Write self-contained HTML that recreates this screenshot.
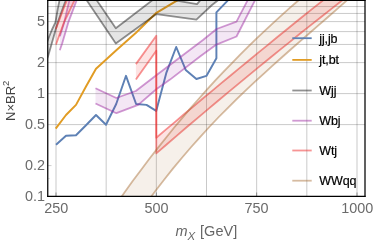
<!DOCTYPE html>
<html>
<head>
<meta charset="utf-8">
<style>
html,body{margin:0;padding:0;background:#fff;}
body{width:374px;height:243px;overflow:hidden;font-family:"Liberation Sans",sans-serif;}
svg{display:block;will-change:transform;}
text{font-family:"Liberation Sans",sans-serif;}
.tick{font-size:14.4px;fill:#6b6b6b;}
.leg{font-size:12.5px;fill:#000;stroke:#000;stroke-width:0.2px;letter-spacing:-0.12px;}
.grid line{stroke:#000;stroke-opacity:0.21;stroke-width:1;}
</style>
</head>
<body>
<svg width="374" height="243" viewBox="0 0 374 243">
<defs>
<clipPath id="plot"><rect x="47.8" y="0" width="317.2" height="196.3"/></clipPath>
</defs>
<rect x="0" y="0" width="374" height="243" fill="#fff"/>
<g class="grid">
<line x1="56.00" y1="0" x2="56.00" y2="196"/>
<line x1="106.17" y1="0" x2="106.17" y2="196"/>
<line x1="156.33" y1="0" x2="156.33" y2="196"/>
<line x1="206.50" y1="0" x2="206.50" y2="196"/>
<line x1="256.67" y1="0" x2="256.67" y2="196"/>
<line x1="306.83" y1="0" x2="306.83" y2="196"/>
<line x1="357.00" y1="0" x2="357.00" y2="196"/>
<line x1="48" y1="124.6" x2="365" y2="124.6"/>
<line x1="48" y1="93.6" x2="365" y2="93.6"/>
<line x1="48" y1="62.6" x2="365" y2="62.6"/>
<line x1="48" y1="44.45" x2="365" y2="44.45"/>
<line x1="48" y1="31.6" x2="365" y2="31.6"/>
<line x1="48" y1="21.6" x2="365" y2="21.6"/>
<line x1="48" y1="13.45" x2="365" y2="13.45"/>
<line x1="48" y1="6.55" x2="365" y2="6.55"/>
</g>
<g clip-path="url(#plot)" fill="none" stroke-linejoin="round" stroke-linecap="butt">
<path d="M56.0,144.8 L66.0,135.7 L76.0,135.3 L86.0,125.2 L96.0,115.0 L106.0,124.8 L116.2,104.0 L126.0,75.8 L136.1,104.0 L146.5,104.9 L156.2,110.9 L166.5,72.3 L176.2,47.0 L185.7,69.9 L196.4,79.0 L206.4,75.9 L216.4,58.2 L216.4,12.4 L227.4,0.8 L232.0,-4.0" stroke="#5E81B5" stroke-width="1.95"/>
<path d="M55.7,128.7 L66.0,115.0 L76.0,104.9 L86.0,86.5 L96.0,68.8 L116.0,50.5 L136.0,32.8 L156.4,12.8 L176.5,0.8 L186.0,-4.0" stroke="#E19C24" stroke-width="1.95"/>
<path d="M44.0,50.0 L48.0,39.5 L51.8,30.0 L55.4,22.4 L57.8,8.6 L59.2,1.7 L65.0,-25.0 L76.0,-35.0 L83.0,-20.0 L97.0,0.8 L100.0,5.0 L115.8,28.2 L156.3,-2.8 L197.0,4.1 L199.8,0.8 L215.0,-15.0 L230.0,-25.0 L230.0,-10.0 L217.4,0.8 L212.0,5.0 L196.4,19.6 L156.4,14.1 L115.8,43.6 L100.0,19.9 L87.0,0.8 L76.0,-20.0 L72.0,-25.0 L65.2,1.7 L62.7,8.6 L57.8,22.4 L55.0,31.9 L51.3,45.0 L48.0,56.5 L44.0,66.0 Z" fill="#000" fill-opacity="0.1" stroke="none"/>
<path d="M44.0,50.0 L48.0,39.5 L51.8,30.0 L55.4,22.4 L57.8,8.6 L59.2,1.7 L65.0,-25.0 L76.0,-35.0 L83.0,-20.0 L97.0,0.8 L100.0,5.0 L115.8,28.2 L156.3,-2.8 L197.0,4.1 L199.8,0.8 L215.0,-15.0 L230.0,-25.0" stroke="#000" stroke-opacity="0.43" stroke-width="1.8"/>
<path d="M44.0,66.0 L48.0,56.5 L51.3,45.0 L55.0,31.9 L57.8,22.4 L62.7,8.6 L65.2,1.7 L72.0,-25.0 L76.0,-20.0 L87.0,0.8 L100.0,19.9 L115.8,43.6 L156.4,14.1 L196.4,19.6 L212.0,5.0 L217.4,0.8 L230.0,-10.0" stroke="#000" stroke-opacity="0.43" stroke-width="1.8"/>
<path d="M59.9,36.2 L64.2,22.4 L67.4,8.6 L69.2,1.0 L71.0,-6.0 L79.0,-6.0 L76.3,1.3 L73.5,8.6 L68.3,22.4 L62.0,44.0 L59.8,50.2 Z" fill="rgb(155,38,160)" fill-opacity="0.11" stroke="none"/>
<path d="M59.9,36.2 L64.2,22.4 L67.4,8.6 L69.2,1.0 L71.0,-6.0" stroke="rgb(155,38,160)" stroke-opacity="0.47" stroke-width="1.8"/>
<path d="M59.8,50.2 L62.0,44.0 L68.3,22.4 L73.5,8.6 L76.3,1.3 L79.0,-6.0" stroke="rgb(155,38,160)" stroke-opacity="0.47" stroke-width="1.8"/>
<path d="M95.5,88.3 L116.3,98.0 L135.8,91.0 L156.3,75.3 L203.0,40.0 L216.6,29.0 L236.5,21.6 L247.3,0.8 L250.0,-5.0 L257.5,-5.0 L254.7,0.8 L236.5,36.5 L216.4,44.6 L200.0,56.5 L170.0,79.6 L156.3,89.3 L138.2,104.9 L116.4,113.2 L95.5,103.5 Z" fill="rgb(155,38,160)" fill-opacity="0.11" stroke="none"/>
<path d="M95.5,88.3 L116.3,98.0 L135.8,91.0 L156.3,75.3 L203.0,40.0 L216.6,29.0 L236.5,21.6 L247.3,0.8 L250.0,-5.0" stroke="rgb(155,38,160)" stroke-opacity="0.47" stroke-width="1.8"/>
<path d="M95.5,103.5 L116.4,113.2 L138.2,104.9 L156.3,89.3 L170.0,79.6 L200.0,56.5 L216.4,44.6 L236.5,36.5 L254.7,0.8 L257.5,-5.0" stroke="rgb(155,38,160)" stroke-opacity="0.47" stroke-width="1.8"/>
<path d="M55.8,28.8 L58.4,22.4 L63.5,8.6 L66.5,1.3 L69.5,-6.0 L77.5,-6.0 L74.2,1.0 L70.6,8.6 L64.0,22.4 L56.2,44.0 L55.8,44.0 Z" fill="rgb(240,42,42)" fill-opacity="0.13" stroke="none"/>
<path d="M55.8,28.8 L58.4,22.4 L63.5,8.6 L66.5,1.3 L69.5,-6.0" stroke="rgb(240,42,42)" stroke-opacity="0.5" stroke-width="1.8"/>
<path d="M55.8,44.0 L56.2,44.0 L64.0,22.4 L70.6,8.6 L74.2,1.0 L77.5,-6.0" stroke="rgb(240,42,42)" stroke-opacity="0.5" stroke-width="1.8"/>
<path d="M135.9,64.1 L156.3,35.8 L156.3,137.7 L165.5,129.9 L174.8,122.1 L184.0,114.3 L193.3,106.6 L202.5,98.8 L211.8,91.1 L221.0,83.4 L230.3,75.8 L239.5,68.1 L248.8,60.5 L258.0,52.9 L267.3,45.4 L276.5,37.8 L285.8,30.3 L295.0,22.8 L304.3,15.3 L313.5,7.9 L322.8,0.5 L332.0,-6.9 L352.0,-7.2 L341.7,0.8 L331.4,8.9 L321.1,17.0 L310.8,25.1 L300.5,33.3 L290.2,41.6 L279.9,49.9 L269.6,58.2 L259.3,66.6 L249.0,75.1 L238.7,83.6 L228.4,92.1 L218.1,100.7 L207.8,109.4 L197.5,118.1 L187.2,126.8 L176.9,135.6 L166.6,144.5 L156.3,153.4 L156.3,50.7 L135.9,79.6 Z" fill="rgb(240,42,42)" fill-opacity="0.13" stroke="none"/>
<path d="M135.9,64.1 L156.3,35.8 L156.3,137.7 L165.5,129.9 L174.8,122.1 L184.0,114.3 L193.3,106.6 L202.5,98.8 L211.8,91.1 L221.0,83.4 L230.3,75.8 L239.5,68.1 L248.8,60.5 L258.0,52.9 L267.3,45.4 L276.5,37.8 L285.8,30.3 L295.0,22.8 L304.3,15.3 L313.5,7.9 L322.8,0.5 L332.0,-6.9" stroke="rgb(240,42,42)" stroke-opacity="0.5" stroke-width="1.8"/>
<path d="M135.9,79.6 L156.3,50.7 L156.3,153.4 L166.6,144.5 L176.9,135.6 L187.2,126.8 L197.5,118.1 L207.8,109.4 L218.1,100.7 L228.4,92.1 L238.7,83.6 L249.0,75.1 L259.3,66.6 L269.6,58.2 L279.9,49.9 L290.2,41.6 L300.5,33.3 L310.8,25.1 L321.1,17.0 L331.4,8.9 L341.7,0.8 L352.0,-7.2" stroke="rgb(240,42,42)" stroke-opacity="0.5" stroke-width="1.8"/>
<path d="M116.0,204.5 L124.3,192.8 L132.5,181.3 L140.8,170.2 L149.0,159.2 L157.3,148.6 L165.6,138.2 L173.8,128.0 L182.1,118.1 L190.3,108.4 L198.6,99.0 L206.9,89.7 L215.1,80.7 L223.4,71.9 L231.7,63.3 L239.9,54.9 L248.2,46.7 L256.4,38.6 L264.7,30.8 L273.0,23.1 L281.2,15.6 L289.5,8.2 L297.7,1.0 L306.0,-6.1 L354.0,-6.0 L345.0,2.1 L335.9,10.1 L326.9,18.0 L317.8,25.9 L308.8,33.7 L299.7,41.6 L290.7,49.5 L281.7,57.5 L272.6,65.6 L263.6,73.8 L254.5,82.1 L245.5,90.6 L236.4,99.4 L227.4,108.3 L218.3,117.5 L209.3,127.0 L200.3,136.8 L191.2,147.0 L182.2,157.5 L173.1,168.4 L164.1,179.7 L155.0,191.5 L146.0,203.7 Z" fill="rgb(163,105,46)" fill-opacity="0.1" stroke="none"/>
<path d="M116.0,204.5 L124.3,192.8 L132.5,181.3 L140.8,170.2 L149.0,159.2 L157.3,148.6 L165.6,138.2 L173.8,128.0 L182.1,118.1 L190.3,108.4 L198.6,99.0 L206.9,89.7 L215.1,80.7 L223.4,71.9 L231.7,63.3 L239.9,54.9 L248.2,46.7 L256.4,38.6 L264.7,30.8 L273.0,23.1 L281.2,15.6 L289.5,8.2 L297.7,1.0 L306.0,-6.1" stroke="rgb(163,105,46)" stroke-opacity="0.45" stroke-width="1.8"/>
<path d="M146.0,203.7 L155.0,191.5 L164.1,179.7 L173.1,168.4 L182.2,157.5 L191.2,147.0 L200.3,136.8 L209.3,127.0 L218.3,117.5 L227.4,108.3 L236.4,99.4 L245.5,90.6 L254.5,82.1 L263.6,73.8 L272.6,65.6 L281.7,57.5 L290.7,49.5 L299.7,41.6 L308.8,33.7 L317.8,25.9 L326.9,18.0 L335.9,10.1 L345.0,2.1 L354.0,-6.0" stroke="rgb(163,105,46)" stroke-opacity="0.45" stroke-width="1.8"/>
</g>
<g stroke="#000" stroke-linecap="butt" stroke-width="1.25">
<line x1="47.75" y1="0" x2="47.75" y2="197" />
<line x1="365" y1="0" x2="365" y2="197"/>
<line x1="47.1" y1="0.37" x2="365.6" y2="0.37"/>
<line x1="47.1" y1="196.4" x2="365.6" y2="196.4"/>
</g>
<g stroke="#000" stroke-opacity="0.45" stroke-width="0.8">
<line x1="56" y1="196" x2="56" y2="192.5"/>
<line x1="156.33" y1="196" x2="156.33" y2="192.5"/>
<line x1="256.67" y1="196" x2="256.67" y2="192.5"/>
<line x1="357" y1="196" x2="357" y2="192.5"/>
</g>
<g stroke="#000" stroke-opacity="0.25" stroke-width="0.8">
<line x1="48" y1="165.6" x2="51.5" y2="165.6"/>
<line x1="48" y1="178.5" x2="50" y2="178.5" stroke-opacity="0.12"/>
</g>
<g class="tick" text-anchor="middle">
<text x="56.2" y="212.85">250</text>
<text x="156.4" y="212.85">500</text>
<text x="256.6" y="212.85">750</text>
<text x="357.3" y="212.85">1000</text>
</g>
<g class="tick" text-anchor="end">
<text x="45.0" y="200.75">0.1</text>
<text x="45.0" y="169.75">0.2</text>
<text x="45.0" y="128.75">0.5</text>
<text x="45.0" y="97.75">1</text>
<text x="45.0" y="66.75">2</text>
<text x="45.0" y="25.75">5</text>
</g>
<text class="tick" transform="translate(14.7,121.0) rotate(-90)" style="font-size:13px;fill:#444">N×BR<tspan dy="-5.9" style="font-size:9.5px">2</tspan></text>
<text class="tick" x="175.5" y="236.1" style="font-size:14.5px;fill:#666"><tspan font-style="italic">m</tspan><tspan font-style="italic" dy="3.4" style="font-size:11.5px">X</tspan><tspan dy="-3.4" dx="0.8"> [GeV]</tspan></text>
<g stroke-width="1.8">
<line x1="292.3" y1="38.2" x2="311.7" y2="38.2" stroke="#5E81B5" stroke-opacity="1"/>
<line x1="292.3" y1="59.9" x2="311.7" y2="59.9" stroke="#E19C24" stroke-opacity="1"/>
<line x1="292.3" y1="90.5" x2="311.7" y2="90.5" stroke="#000" stroke-opacity="0.43"/>
<line x1="292.3" y1="120.7" x2="311.7" y2="120.7" stroke="rgb(155,38,160)" stroke-opacity="0.47"/>
<line x1="292.3" y1="150.5" x2="311.7" y2="150.5" stroke="rgb(240,42,42)" stroke-opacity="0.5"/>
<line x1="292.3" y1="180.7" x2="311.7" y2="180.7" stroke="rgb(163,105,46)" stroke-opacity="0.45"/>
</g>
<g class="leg">
<text x="319.3" y="42.7">jj,jb</text>
<text x="319.3" y="64.4">jt,bt</text>
<text x="319.3" y="95.0">Wjj</text>
<text x="319.3" y="125.2">Wbj</text>
<text x="319.3" y="155.0">Wtj</text>
<text x="319.3" y="185.2">WWqq</text>
</g>
</svg>
</body>
</html>
